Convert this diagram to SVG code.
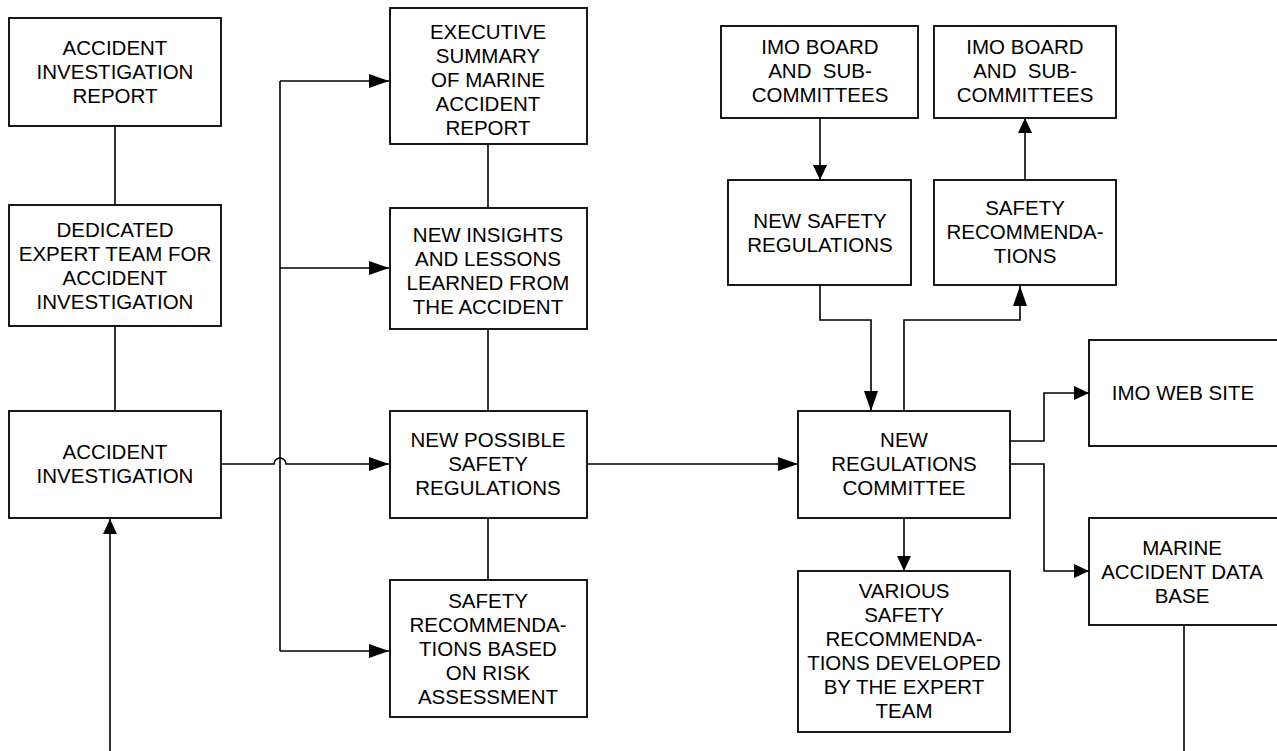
<svg xmlns="http://www.w3.org/2000/svg" width="1277" height="751" viewBox="0 0 1277 751">
<style>
.box{fill:#fff;stroke:#000;stroke-width:1.8}
.t{font-family:"Liberation Sans",Arial,sans-serif;font-size:20.5px;fill:#000;text-anchor:middle;white-space:pre}
.c{fill:none;stroke:#000;stroke-width:1.6}
</style>
<defs>
<marker id="aL" markerUnits="userSpaceOnUse" markerWidth="20" markerHeight="14" refX="20" refY="7" orient="auto"><path d="M0,0 L20,7 L0,14 z" fill="#000"/></marker>
<marker id="aS" markerUnits="userSpaceOnUse" markerWidth="15" markerHeight="14" refX="15" refY="7" orient="auto"><path d="M0,0 L15,7 L0,14 z" fill="#000"/></marker>
</defs>
<g id="connectors">
<path class="c" d="M115,126 V205"/>
<path class="c" d="M115,326 V411"/>
<path class="c" d="M110,751 V519" marker-end="url(#aS)"/>
<path class="c" d="M280,81 V651"/>
<path class="c" d="M280,81 H389" marker-end="url(#aL)"/>
<path class="c" d="M280,268 H389" marker-end="url(#aL)"/>
<path class="c" d="M280,651 H389" marker-end="url(#aL)"/>
<path class="c" d="M221,464 H274 A6,6 0 0 1 286,464 H389" marker-end="url(#aL)"/>
<path class="c" d="M488,144 V208"/>
<path class="c" d="M488,329 V411"/>
<path class="c" d="M488,518 V580"/>
<path class="c" d="M587,464 H798" marker-end="url(#aL)"/>
<path class="c" d="M820,118 V180" marker-end="url(#aS)"/>
<path class="c" d="M1025,180 V118" marker-end="url(#aS)"/>
<path class="c" d="M820,285 V320 H871 V411" marker-end="url(#aL)"/>
<path class="c" d="M904,411 V320 H1020 V286" marker-end="url(#aL)"/>
<path class="c" d="M1010,441 H1044 V393 H1089" marker-end="url(#aS)"/>
<path class="c" d="M1010,464 H1044 V571 H1089" marker-end="url(#aS)"/>
<path class="c" d="M904,518 V571" marker-end="url(#aS)"/>
<path class="c" d="M1184,625 V751"/>
</g>
<g id="n1"><rect class="box" x="9" y="18" width="212" height="108"/>
<text class="t" x="115" y="55"><tspan x="115">ACCIDENT</tspan><tspan x="115" dy="24">INVESTIGATION</tspan><tspan x="115" dy="24">REPORT</tspan></text></g>
<g id="n2"><rect class="box" x="9" y="205" width="212" height="121"/>
<text class="t" x="115" y="237"><tspan x="115">DEDICATED</tspan><tspan x="115" dy="24">EXPERT TEAM FOR</tspan><tspan x="115" dy="24">ACCIDENT</tspan><tspan x="115" dy="24">INVESTIGATION</tspan></text></g>
<g id="n3"><rect class="box" x="9" y="411" width="212" height="107"/>
<text class="t" x="115" y="459"><tspan x="115">ACCIDENT</tspan><tspan x="115" dy="24">INVESTIGATION</tspan></text></g>
<g id="n4"><rect class="box" x="390" y="8" width="197" height="136"/>
<text class="t" x="488" y="39"><tspan x="488">EXECUTIVE</tspan><tspan x="488" dy="24">SUMMARY</tspan><tspan x="488" dy="24">OF MARINE</tspan><tspan x="488" dy="24">ACCIDENT</tspan><tspan x="488" dy="24">REPORT</tspan></text></g>
<g id="n5"><rect class="box" x="390" y="208" width="197" height="121"/>
<text class="t" x="488" y="242"><tspan x="488">NEW INSIGHTS</tspan><tspan x="488" dy="24">AND LESSONS</tspan><tspan x="488" dy="24">LEARNED FROM</tspan><tspan x="488" dy="24">THE ACCIDENT</tspan></text></g>
<g id="n6"><rect class="box" x="390" y="411" width="197" height="107"/>
<text class="t" x="488" y="447"><tspan x="488">NEW POSSIBLE</tspan><tspan x="488" dy="24">SAFETY</tspan><tspan x="488" dy="24">REGULATIONS</tspan></text></g>
<g id="n7"><rect class="box" x="390" y="580" width="197" height="137"/>
<text class="t" x="488" y="608"><tspan x="488">SAFETY</tspan><tspan x="488" dy="24">RECOMMENDA-</tspan><tspan x="488" dy="24">TIONS BASED</tspan><tspan x="488" dy="24">ON RISK</tspan><tspan x="488" dy="24">ASSESSMENT</tspan></text></g>
<g id="n8"><rect class="box" x="721" y="26" width="197" height="92"/>
<text class="t" x="820" y="54"><tspan x="820">IMO BOARD</tspan><tspan x="820" dy="24">AND  SUB-</tspan><tspan x="820" dy="24">COMMITTEES</tspan></text></g>
<g id="n9"><rect class="box" x="728" y="180" width="183" height="105"/>
<text class="t" x="820" y="228"><tspan x="820">NEW SAFETY</tspan><tspan x="820" dy="24">REGULATIONS</tspan></text></g>
<g id="n10"><rect class="box" x="934" y="26" width="182" height="92"/>
<text class="t" x="1025" y="54"><tspan x="1025">IMO BOARD</tspan><tspan x="1025" dy="24">AND  SUB-</tspan><tspan x="1025" dy="24">COMMITTEES</tspan></text></g>
<g id="n11"><rect class="box" x="934" y="180" width="182" height="105"/>
<text class="t" x="1025" y="215"><tspan x="1025">SAFETY</tspan><tspan x="1025" dy="24">RECOMMENDA-</tspan><tspan x="1025" dy="24">TIONS</tspan></text></g>
<g id="n12"><rect class="box" x="798" y="411" width="212" height="107"/>
<text class="t" x="904" y="447"><tspan x="904">NEW</tspan><tspan x="904" dy="24">REGULATIONS</tspan><tspan x="904" dy="24">COMMITTEE</tspan></text></g>
<g id="n13"><rect class="box" x="798" y="571" width="212" height="161"/>
<text class="t" x="904" y="598"><tspan x="904">VARIOUS</tspan><tspan x="904" dy="24">SAFETY</tspan><tspan x="904" dy="24">RECOMMENDA-</tspan><tspan x="904" dy="24">TIONS DEVELOPED</tspan><tspan x="904" dy="24">BY THE EXPERT</tspan><tspan x="904" dy="24">TEAM</tspan></text></g>
<g id="n14"><rect class="box" x="1089" y="340" width="200" height="106"/>
<text class="t" x="1183" y="400">IMO WEB SITE</text></g>
<g id="n15"><rect class="box" x="1089" y="518" width="200" height="107"/>
<text class="t" x="1182" y="555"><tspan x="1182">MARINE</tspan><tspan x="1182" dy="24">ACCIDENT DATA</tspan><tspan x="1182" dy="24">BASE</tspan></text></g>
</svg>
